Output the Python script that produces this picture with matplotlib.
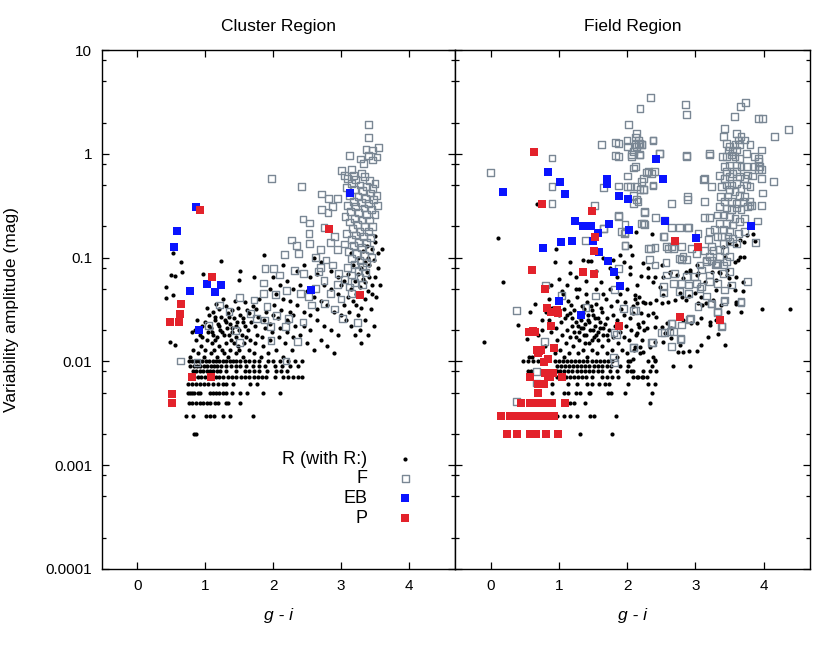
import numpy as np
import matplotlib.pyplot as plt
from matplotlib.ticker import FixedLocator, NullFormatter

plt.rcParams['font.family'] = ['Liberation Sans', 'DejaVu Sans']

# ---------------- Cluster Region ----------------
# R: quantized low-amplitude rows (amp, list of g-i)
cl_r_rows = [
    (0.002, [0.83, 0.87]),
    (0.003, [0.71, 0.82, 1.01, 1.07, 1.13, 1.26, 1.37, 1.70]),
    (0.004, [0.76, 0.81, 0.87, 0.92, 0.97, 1.02, 1.07, 1.14, 1.19, 1.31, 1.34, 1.51]),
    (0.005, [0.74, 0.77, 0.80, 0.84, 0.89, 0.93, 1.07, 1.11, 1.16, 1.21, 1.26, 1.31, 1.40, 1.51, 1.61, 1.85, 2.10]),
    (0.006, [0.74, 0.80, 0.86, 0.92, 0.98, 1.04, 1.12, 1.19, 1.26, 1.31, 1.41, 1.66, 1.76]),
    (0.007, [0.84, 0.89, 0.94, 0.99, 1.04, 1.16, 1.21, 1.26, 1.33, 1.39, 1.46, 1.53, 1.59, 1.65, 1.72,
             1.78, 1.83, 1.89, 2.03, 2.15, 2.22, 2.30, 2.37, 2.42]),
    (0.008, [0.82, 0.87, 0.92, 0.97, 1.02, 1.07, 1.12, 1.17, 1.22, 1.30, 1.45, 1.58, 1.65, 1.72, 1.79,
             1.91, 2.05, 2.12, 2.20]),
    (0.009, [0.78, 0.83, 0.88, 0.93, 0.98, 1.03, 1.08, 1.13, 1.18, 1.23, 1.30, 1.38, 1.45, 1.52, 1.60,
             1.70, 1.80, 1.88, 2.03, 2.13, 2.25, 2.37]),
    (0.010, [0.76, 0.81, 0.86, 0.91, 0.96, 1.01, 1.06, 1.11, 1.16, 1.21, 1.26, 1.31, 1.36, 1.41, 1.46,
             1.51, 1.58, 1.65, 1.72, 1.80, 1.92, 2.00, 2.10, 2.22, 2.32, 2.42]),
]
# R: scattered points above 0.01 (g-i, amp)
cl_r_pts = [
    (0.53, 0.11), (0.65, 0.090), (0.50, 0.068), (0.55, 0.066), (0.66, 0.072), (0.43, 0.052), (0.52, 0.044),
    (0.43, 0.041), (0.97, 0.069), (1.51, 0.075), (1.50, 0.061), (1.86, 0.106), (0.48, 0.0155), (0.55, 0.0144),
    (1.24, 0.092), (1.72, 0.065),
    (0.78, 0.011), (0.82, 0.013), (0.86, 0.016), (0.80, 0.019), (0.90, 0.012), (0.94, 0.014), (0.92, 0.018),
    (0.96, 0.022), (0.88, 0.025), (0.98, 0.011), (1.00, 0.013), (1.02, 0.016), (1.04, 0.019), (1.00, 0.024),
    (1.06, 0.028), (1.03, 0.033), (1.08, 0.012), (1.10, 0.015), (1.12, 0.018), (1.09, 0.021), (1.14, 0.025),
    (1.11, 0.030), (1.16, 0.036), (1.18, 0.011), (1.20, 0.014), (1.17, 0.017), (1.22, 0.020), (1.19, 0.023),
    (1.24, 0.027), (1.21, 0.032), (1.26, 0.040), (1.28, 0.012), (1.30, 0.015), (1.27, 0.018), (1.32, 0.021),
    (1.29, 0.025), (1.34, 0.029), (1.31, 0.034), (1.36, 0.013), (1.38, 0.016), (1.40, 0.019), (1.37, 0.023),
    (1.42, 0.026), (1.39, 0.031), (1.44, 0.038), (1.46, 0.012), (1.48, 0.014), (1.45, 0.017), (1.50, 0.020),
    (1.47, 0.024), (1.52, 0.028), (1.49, 0.033), (1.55, 0.011), (1.57, 0.015), (1.54, 0.018), (1.59, 0.022),
    (1.56, 0.026), (1.61, 0.031), (1.58, 0.037), (1.64, 0.013), (1.66, 0.016), (1.63, 0.020), (1.68, 0.024),
    (1.65, 0.029), (1.70, 0.034), (1.72, 0.012), (1.74, 0.015), (1.76, 0.018), (1.73, 0.022), (1.78, 0.027),
    (1.75, 0.032), (1.80, 0.040), (1.82, 0.011), (1.85, 0.014), (1.83, 0.017), (1.88, 0.021), (1.86, 0.025),
    (1.90, 0.030), (1.93, 0.012), (1.95, 0.016), (1.98, 0.019), (1.96, 0.023), (2.00, 0.028), (2.02, 0.035),
    (2.05, 0.013), (2.08, 0.017), (2.10, 0.021), (2.07, 0.026), (2.12, 0.031), (2.15, 0.011), (2.18, 0.015),
    (2.20, 0.019), (2.22, 0.024), (2.25, 0.030), (2.28, 0.013), (2.30, 0.017), (2.32, 0.022),
    (1.15, 0.016), (1.25, 0.019), (1.35, 0.018), (1.45, 0.022), (1.20, 0.022), (1.30, 0.024), (1.40, 0.021),
    (1.10, 0.019), (1.05, 0.022), (1.25, 0.013), (1.35, 0.027), (1.55, 0.024), (1.15, 0.027), (1.42, 0.015),
    (1.60, 0.017), (0.95, 0.017), (0.85, 0.020), (1.33, 0.011), (1.13, 0.013), (1.50, 0.013),
    (2.05, 0.045), (2.15, 0.040), (2.25, 0.038), (2.35, 0.035), (2.45, 0.030), (2.55, 0.028), (2.65, 0.025),
    (2.75, 0.022), (2.85, 0.020), (2.95, 0.018), (2.10, 0.055), (2.20, 0.060), (2.30, 0.050), (2.40, 0.055),
    (2.50, 0.048), (2.60, 0.042), (2.70, 0.038), (2.80, 0.035), (2.90, 0.030), (3.00, 0.028), (2.35, 0.075),
    (2.45, 0.085), (2.55, 0.065), (2.65, 0.070), (2.75, 0.055), (2.85, 0.050), (2.95, 0.045), (2.40, 0.018),
    (2.50, 0.015), (2.60, 0.013), (2.70, 0.016), (2.80, 0.014), (2.90, 0.012), (2.55, 0.020), (2.65, 0.032),
    (2.30, 0.028), (2.20, 0.025), (2.45, 0.022), (1.95, 0.050), (2.00, 0.065), (2.15, 0.085), (2.60, 0.100),
    (2.70, 0.090), (2.85, 0.075), (2.95, 0.065), (3.00, 0.055),
    (3.05, 0.035), (3.10, 0.042), (3.15, 0.050), (3.20, 0.060), (3.25, 0.070), (3.30, 0.080), (3.35, 0.090),
    (3.40, 0.100), (3.45, 0.120), (3.50, 0.140), (3.12, 0.030), (3.18, 0.038), (3.22, 0.045), (3.28, 0.052),
    (3.32, 0.062), (3.38, 0.072), (3.42, 0.085), (3.48, 0.095), (3.08, 0.025), (3.15, 0.022), (3.25, 0.028),
    (3.30, 0.033), (3.35, 0.040), (3.40, 0.048), (3.45, 0.055), (3.50, 0.065), (3.55, 0.080), (3.20, 0.018),
    (3.28, 0.020), (3.36, 0.025), (3.44, 0.032), (3.52, 0.042), (3.58, 0.055), (3.30, 0.015), (3.40, 0.018),
    (3.48, 0.022), (3.25, 0.100), (3.32, 0.115), (3.38, 0.130), (3.10, 0.070), (3.18, 0.085), (3.05, 0.060),
    (3.35, 0.058), (3.42, 0.065), (3.27, 0.045), (3.22, 0.035), (3.46, 0.045), (3.55, 0.110), (3.60, 0.120),
    (3.15, 0.110), (3.50, 0.160),
]
cl_f = [
    (3.40, 1.9), (3.41, 1.44), (3.55, 1.16), (3.37, 1.10), (3.47, 1.09), (3.12, 0.96), (3.53, 0.93),
    (3.29, 0.89), (3.41, 0.97), (3.47, 0.87), (3.33, 0.80), (1.98, 0.58), (2.42, 0.48), (3.01, 0.69),
    (3.16, 0.70), (3.05, 0.62), (3.19, 0.62), (3.30, 0.65),
    (3.10, 0.58), (3.22, 0.57), (3.35, 0.60), (3.42, 0.55), (3.50, 0.52), (3.15, 0.52), (3.28, 0.50),
    (3.38, 0.48), (3.46, 0.46), (3.08, 0.47), (3.20, 0.45), (3.32, 0.44), (3.44, 0.42), (3.52, 0.40),
    (3.12, 0.40), (3.25, 0.39), (3.36, 0.37), (3.48, 0.36), (3.18, 0.35), (3.30, 0.34), (3.40, 0.33),
    (3.54, 0.32), (3.10, 0.32), (3.22, 0.31), (3.34, 0.30), (3.45, 0.29), (3.14, 0.28), (3.26, 0.27),
    (3.38, 0.26), (3.50, 0.26), (3.06, 0.25), (3.20, 0.24), (3.31, 0.23), (3.42, 0.23), (3.12, 0.22),
    (3.24, 0.21), (3.35, 0.20), (3.47, 0.20), (3.17, 0.19), (3.28, 0.18), (3.40, 0.18), (3.08, 0.17),
    (3.21, 0.165), (3.33, 0.16), (3.44, 0.155), (3.15, 0.15), (3.26, 0.14), (3.38, 0.14), (3.05, 0.135),
    (3.18, 0.13), (3.30, 0.125), (3.42, 0.12), (3.11, 0.115), (3.23, 0.11), (3.35, 0.105), (3.45, 0.10),
    (3.15, 0.098), (3.28, 0.094), (3.38, 0.09), (3.20, 0.086), (3.32, 0.082), (3.10, 0.08), (3.25, 0.075),
    (3.36, 0.072), (3.15, 0.068), (3.28, 0.064), (3.05, 0.062), (3.20, 0.058), (3.32, 0.055), (3.12, 0.052),
    (2.71, 0.41), (2.82, 0.37), (2.95, 0.37), (2.88, 0.31), (2.71, 0.29), (2.81, 0.27), (2.44, 0.235),
    (2.54, 0.215), (2.53, 0.17), (2.75, 0.195), (2.27, 0.148), (2.34, 0.13), (2.54, 0.136), (2.37, 0.11),
    (2.17, 0.108), (2.90, 0.16), (2.85, 0.14), (2.95, 0.12), (2.70, 0.12), (2.62, 0.10), (2.78, 0.095),
    (2.88, 0.085), (2.96, 0.07), (2.70, 0.08),
    (1.88, 0.078), (2.01, 0.078), (1.86, 0.057), (2.10, 0.068), (2.32, 0.075), (2.45, 0.07), (2.67, 0.074),
    (1.72, 0.039), (1.86, 0.045), (2.04, 0.044), (2.20, 0.048), (2.40, 0.045), (2.52, 0.042), (1.51, 0.041),
    (1.21, 0.035), (1.67, 0.029), (1.76, 0.026), (1.87, 0.025), (1.96, 0.0215), (2.05, 0.0278), (2.18, 0.0215),
    (2.23, 0.0258), (2.44, 0.024), (1.97, 0.0158), (1.50, 0.0153), (2.36, 0.0155), (2.19, 0.0101),
    (0.64, 0.0101), (0.88, 0.0098), (3.02, 0.026), (3.24, 0.0236), (2.76, 0.036), (2.57, 0.035),
    (1.91, 0.034), (2.62, 0.05), (2.85, 0.045), (2.95, 0.055), (2.75, 0.06), (3.00, 0.04), (2.90, 0.032),
    (3.15, 0.045), (1.35, 0.03), (1.05, 0.022), (1.45, 0.02),
]
cl_eb = [(0.87, 0.31), (0.59, 0.179), (0.54, 0.127), (0.77, 0.048), (1.03, 0.056), (1.23, 0.055),
         (1.14, 0.047), (3.13, 0.42), (2.56, 0.049), (0.91, 0.020)]
cl_p = [(0.92, 0.29), (1.10, 0.065), (0.64, 0.036), (2.82, 0.187), (3.28, 0.044), (0.63, 0.0286),
        (0.48, 0.0238), (0.61, 0.0238), (0.80, 0.007), (1.09, 0.007), (0.51, 0.0048), (0.51, 0.0040)]

# ---------------- Field Region ----------------
fd_r_rows = [
    (0.002, [1.31, 1.78]),
    (0.003, [0.97, 1.07, 1.17, 1.27, 1.46, 1.52, 1.84]),
    (0.004, [1.09, 1.17, 1.23, 1.39, 2.33]),
    (0.005, [0.90, 1.07, 1.14, 1.25, 1.31, 1.44, 1.46, 1.72, 1.77, 1.97, 2.36]),
    (0.006, [0.90, 1.14, 1.27, 1.41, 1.48, 1.59, 1.68, 1.74, 2.02, 2.31, 2.41]),
    (0.007, [0.97, 1.05, 1.10, 1.16, 1.22, 1.28, 1.34, 1.40, 1.48, 1.63, 1.70, 1.78, 1.87, 2.09, 2.14,
             2.16, 2.22, 2.24, 2.29]),
    (0.008, [0.55, 0.60, 0.97, 1.02, 1.08, 1.14, 1.20, 1.26, 1.32, 1.38, 1.44, 1.50, 1.57, 1.63, 1.75,
             1.85, 2.00, 2.06, 2.09, 2.23, 2.34, 2.43]),
    (0.009, [0.97, 1.03, 1.09, 1.15, 1.21, 1.27, 1.33, 1.39, 1.45, 1.51, 1.57, 1.64, 1.70, 1.77, 1.90,
             2.02, 2.37, 2.68, 2.92]),
    (0.010, [0.47, 0.55, 0.62, 0.70, 0.95, 1.00, 1.06, 1.12, 1.18, 1.24, 1.30, 1.36, 1.42, 1.48, 1.54,
             1.60, 1.66, 1.72, 1.78, 2.02, 2.04, 2.30, 2.41]),
]
fd_r_pts = [
    (-0.10, 0.0155), (0.11, 0.156), (0.19, 0.058), (0.68, 0.33), (0.96, 0.12), (0.95, 0.091), (1.17, 0.09),
    (1.17, 0.071), (1.36, 0.094), (1.43, 0.093), (1.47, 0.092), (0.41, 0.0226), (0.65, 0.0357), (0.58, 0.030),
    (0.54, 0.0163), (0.56, 0.011), (0.61, 0.011), (0.54, 0.0187), (0.60, 0.019), (0.70, 0.018), (0.75, 0.025),
    (0.85, 0.040), (0.88, 0.055), (0.92, 0.030), (1.05, 0.048), (1.00, 0.062), (1.12, 0.055), (1.25, 0.065),
    (1.30, 0.050), (1.40, 0.060), (1.55, 0.075), (1.62, 0.058), (1.75, 0.080), (1.85, 0.065), (1.95, 0.090),
    (2.05, 0.070), (1.65, 0.10), (1.80, 0.095), (1.90, 0.105), (2.13, 0.177), (2.36, 0.17), (2.04, 0.13),
    (0.95, 0.012), (0.98, 0.016), (0.96, 0.021), (1.00, 0.028), (1.02, 0.013), (1.05, 0.018), (1.03, 0.024),
    (1.07, 0.032), (1.08, 0.011), (1.10, 0.015), (1.12, 0.020), (1.09, 0.026), (1.14, 0.038), (1.15, 0.012),
    (1.17, 0.017), (1.19, 0.022), (1.16, 0.029), (1.21, 0.014), (1.23, 0.019), (1.25, 0.024), (1.22, 0.031),
    (1.27, 0.042), (1.28, 0.012), (1.30, 0.016), (1.32, 0.021), (1.29, 0.027), (1.34, 0.034), (1.35, 0.013),
    (1.37, 0.018), (1.39, 0.023), (1.36, 0.029), (1.41, 0.037), (1.42, 0.011), (1.44, 0.015), (1.46, 0.020),
    (1.43, 0.025), (1.48, 0.031), (1.49, 0.013), (1.51, 0.017), (1.53, 0.022), (1.50, 0.028), (1.55, 0.036),
    (1.56, 0.012), (1.58, 0.016), (1.60, 0.021), (1.57, 0.026), (1.62, 0.033), (1.63, 0.014), (1.65, 0.018),
    (1.67, 0.023), (1.64, 0.030), (1.69, 0.040), (1.70, 0.012), (1.72, 0.016), (1.74, 0.020), (1.71, 0.026),
    (1.76, 0.034), (1.78, 0.013), (1.80, 0.017), (1.82, 0.022), (1.79, 0.028), (1.85, 0.011), (1.87, 0.015),
    (1.89, 0.019), (1.86, 0.025), (1.91, 0.032), (1.93, 0.013), (1.95, 0.017), (1.98, 0.022), (1.96, 0.028),
    (2.00, 0.012), (2.03, 0.016), (2.06, 0.020), (2.04, 0.026), (2.08, 0.034), (2.10, 0.013), (2.13, 0.018),
    (2.16, 0.023), (2.19, 0.012), (2.22, 0.016), (2.25, 0.020),
    (1.25, 0.017), (1.30, 0.019), (1.35, 0.021), (1.40, 0.018), (1.45, 0.024), (1.50, 0.020), (1.55, 0.018),
    (1.60, 0.024), (1.33, 0.025), (1.38, 0.015), (1.48, 0.016), (1.58, 0.019), (1.28, 0.022), (1.43, 0.028),
    (1.53, 0.026), (1.20, 0.026), (1.65, 0.021), (1.70, 0.018), (1.37, 0.032), (1.47, 0.034), (1.18, 0.035),
    (1.12, 0.028), (1.06, 0.045), (1.25, 0.050), (1.40, 0.045), (1.55, 0.050), (1.65, 0.045), (1.75, 0.050),
    (1.90, 0.045), (2.00, 0.050), (1.85, 0.038), (2.12, 0.040), (1.97, 0.037), (0.85, 0.025), (0.88, 0.019),
    (0.80, 0.014), (0.90, 0.033), (0.82, 0.030), (0.75, 0.020),
    (2.21, 0.0665), (2.31, 0.0655), (2.38, 0.0586), (2.14, 0.0545), (2.12, 0.0436), (2.17, 0.042),
    (2.24, 0.0376), (2.26, 0.0362), (2.34, 0.0368), (2.43, 0.039), (2.53, 0.0436), (2.51, 0.0362),
    (2.60, 0.0376), (2.70, 0.039), (2.77, 0.0453), (2.80, 0.042), (2.87, 0.039), (2.91, 0.0427),
    (2.99, 0.0453), (3.04, 0.0362), (3.09, 0.042), (3.10, 0.0349), (3.16, 0.0362), (3.26, 0.039),
    (3.36, 0.0705), (3.46, 0.068), (3.50, 0.063), (3.60, 0.0655), (3.70, 0.0586), (3.50, 0.0545),
    (3.58, 0.0488), (3.70, 0.048), (3.60, 0.0376), (3.67, 0.030), (3.48, 0.030), (3.38, 0.0349),
    (3.31, 0.0488), (3.31, 0.0608), (3.14, 0.0586), (3.02, 0.068), (2.92, 0.073), (2.82, 0.063),
    (2.73, 0.068), (2.63, 0.0705), (2.53, 0.0655), (2.48, 0.0525), (2.14, 0.0362), (2.09, 0.029),
    (2.21, 0.029), (2.31, 0.028), (2.38, 0.029), (2.43, 0.027), (2.24, 0.0242), (2.17, 0.0216),
    (2.29, 0.0208), (2.41, 0.0216), (2.51, 0.0216), (2.58, 0.0233), (2.65, 0.0208), (2.55, 0.0186),
    (2.65, 0.0167), (2.53, 0.0155), (2.41, 0.0155), (2.34, 0.0139), (2.19, 0.0139), (2.24, 0.0124),
    (2.12, 0.0139), (2.14, 0.0186), (2.82, 0.025), (2.94, 0.0233), (3.02, 0.0233), (3.09, 0.026),
    (3.21, 0.0242), (3.31, 0.025), (3.19, 0.0173), (3.43, 0.0144), (3.33, 0.0184), (2.77, 0.0144),
    (2.82, 0.0124), (2.75, 0.0124), (2.91, 0.0126), (3.02, 0.0126), (3.08, 0.0144), (2.38, 0.0111),
    (2.41, 0.0103), (2.09, 0.0106), (3.98, 0.032), (4.38, 0.0317), (3.59, 0.036), (3.21, 0.0226),
    (2.07, 0.106), (2.04, 0.082), (2.24, 0.088), (2.31, 0.079), (2.41, 0.0655), (2.51, 0.085),
    (2.63, 0.073), (2.87, 0.073), (2.92, 0.076), (3.02, 0.085), (3.04, 0.0705), (3.24, 0.073),
    (3.35, 0.073), (3.46, 0.076), (3.43, 0.102), (3.41, 0.127), (3.50, 0.137), (3.60, 0.132),
    (3.65, 0.148), (3.72, 0.142), (3.75, 0.165), (3.65, 0.102), (3.58, 0.091), (3.63, 0.095),
    (3.72, 0.102), (3.85, 0.167), (3.88, 0.145),
]
fd_f = [
    (2.34, 3.5), (2.19, 2.74), (2.86, 3.0), (2.87, 2.37), (3.73, 3.1), (3.66, 2.84), (2.02, 1.9),
    (3.57, 2.3), (3.92, 2.2), (3.99, 2.2), (4.37, 1.7), (4.16, 1.48), (1.62, 1.22), (1.83, 1.29),
    (1.88, 1.26), (2.00, 1.34), (2.01, 1.18), (2.12, 1.45), (2.17, 1.26), (2.21, 1.24), (2.14, 1.18),
    (2.38, 1.34), (2.48, 1.0), (1.83, 0.97), (1.87, 0.95), (2.07, 0.98), (2.18, 0.98), (0.90, 0.91),
    (2.87, 0.97), (3.21, 1.0), (0.0, 0.655), (2.10, 0.73), (0.90, 0.48), (0.90, 0.33), (1.52, 0.32),
    (1.65, 0.47), (1.87, 0.49), (2.01, 0.48), (2.05, 0.48), (2.01, 0.61), (2.21, 0.54), (2.28, 0.66),
    (2.40, 0.68), (2.38, 0.49), (2.24, 0.45), (2.16, 0.35), (2.89, 0.36), (3.13, 0.35), (3.24, 0.48),
    (3.13, 0.58), (2.25, 0.27), (2.42, 0.245), (3.14, 0.245), (3.21, 0.245), (1.87, 0.255), (1.66, 0.19),
    (1.97, 0.21), (2.25, 0.21), (1.39, 0.147), (1.97, 0.13), (2.31, 0.122), (2.41, 0.124), (2.60, 0.122),
    (2.68, 0.122), (2.90, 0.195), (3.21, 0.177), (2.54, 0.16), (2.33, 0.096), (2.57, 0.09), (2.80, 0.096),
    (2.87, 0.096), (3.16, 0.092), (3.24, 0.094), (3.33, 0.088), (3.30, 0.085), (1.87, 0.079),
    (1.97, 0.174), (2.10, 0.40), (2.19, 0.45), (1.87, 0.25), (1.92, 0.18), (1.96, 0.17), (1.65, 0.19),
    (1.97, 0.13),
    # main red-giant column
    (3.43, 1.76), (3.41, 1.48), (3.60, 1.57), (3.67, 1.46), (3.72, 1.36), (3.63, 1.36), (3.46, 1.26),
    (3.50, 1.17), (3.58, 1.22), (3.65, 1.22), (3.48, 1.09), (3.55, 1.05), (3.60, 1.09), (3.53, 0.975),
    (3.46, 0.94), (3.58, 0.94), (3.65, 0.90), (3.75, 1.01), (3.80, 1.22), (3.87, 0.94), (3.92, 0.90),
    (3.94, 0.75), (3.87, 0.75), (3.75, 0.75), (3.67, 0.75), (3.60, 0.78), (3.50, 0.78), (3.43, 0.75),
    (3.46, 0.67), (3.50, 0.60), (3.55, 0.65), (3.60, 0.67), (3.65, 0.60), (3.72, 0.58), (3.77, 0.625),
    (3.84, 0.61), (3.97, 0.58), (3.43, 0.58), (3.46, 0.50), (3.53, 0.50), (3.60, 0.52), (3.67, 0.465),
    (3.75, 0.50), (3.80, 0.48), (3.50, 0.45), (3.58, 0.43), (3.65, 0.40), (3.72, 0.386), (3.48, 0.386),
    (3.43, 0.346), (3.53, 0.346), (3.60, 0.333), (3.70, 0.346), (3.80, 0.32), (3.46, 0.30), (3.53, 0.29),
    (3.60, 0.30), (3.67, 0.29), (3.41, 0.257), (3.50, 0.248), (3.58, 0.239), (3.65, 0.222), (3.72, 0.239),
    (3.46, 0.214), (3.55, 0.206), (3.41, 0.185), (3.50, 0.178), (3.63, 0.171), (3.72, 0.178), (3.38, 0.159),
    (3.48, 0.159), (3.55, 0.153), (3.41, 0.137), (3.50, 0.142), (3.60, 0.137), (3.43, 0.118), (3.50, 0.102),
    (3.36, 0.102), (3.31, 0.088), (3.41, 0.085), (3.46, 0.091), (3.21, 0.102), (3.16, 0.095), (3.07, 0.085),
    (3.09, 0.076), (3.26, 0.118), (3.14, 0.118), (3.02, 0.11), (2.94, 0.123), (2.82, 0.102), (2.77, 0.098),
    (2.65, 0.127), (2.58, 0.127), (2.53, 0.159), (2.41, 0.085), (2.34, 0.123), (2.24, 0.214), (2.55, 0.23),
    (3.97, 1.09), (3.92, 0.84), (3.97, 0.70), (4.14, 0.54), (3.98, 0.42), (3.97, 0.32), (3.91, 0.225),
    (3.88, 0.14), (3.80, 0.346), (3.82, 0.32), (3.77, 0.31), (3.92, 0.70), (3.40, 0.94), (3.38, 0.48),
    (3.36, 0.62), (3.37, 0.386), (3.35, 0.31), (3.32, 0.257), (3.28, 0.185), (3.36, 0.214), (3.33, 0.159),
    (3.36, 0.12),
    (2.14, 1.57), (2.17, 1.36), (2.19, 1.26), (2.12, 1.22), (2.21, 1.22), (2.38, 1.36), (2.09, 1.05),
    (2.19, 0.975), (2.48, 1.01), (2.07, 0.94), (2.12, 0.75), (2.31, 0.67), (2.24, 0.58), (2.36, 0.65),
    (2.14, 0.48), (2.24, 0.45), (2.38, 0.50), (2.09, 0.333), (2.14, 0.36), (2.26, 0.28), (2.89, 0.386),
    (3.21, 0.975), (2.87, 0.94), (3.12, 0.57), (2.89, 0.195), (2.65, 0.195), (2.21, 0.214), (2.65, 0.33),
    (3.19, 0.15), (3.24, 0.127), (2.80, 0.127), (3.04, 0.171), (2.77, 0.195),
    # faint squares among the dots
    (2.58, 0.068), (2.70, 0.0705), (2.87, 0.0655), (2.99, 0.0655), (3.21, 0.068), (3.41, 0.0705),
    (3.50, 0.073), (2.53, 0.0525), (2.68, 0.0565), (2.80, 0.0565), (2.90, 0.0545), (3.02, 0.0565),
    (3.09, 0.0525), (3.21, 0.0586), (3.33, 0.0565), (3.43, 0.0488), (3.53, 0.0545), (3.77, 0.0586),
    (2.53, 0.046), (2.77, 0.047), (2.90, 0.0453), (3.07, 0.0506), (3.16, 0.0427), (3.24, 0.0357),
    (3.43, 0.039), (3.67, 0.0376), (3.32, 0.0295), (2.09, 0.0308), (2.65, 0.0233), (2.92, 0.0254),
    (2.80, 0.0224), (2.63, 0.0193), (2.68, 0.0193), (2.78, 0.0163), (2.36, 0.0151), (2.65, 0.0139),
    (2.09, 0.0137), (3.38, 0.0216), (2.37, 0.0153), (2.50, 0.019), (2.55, 0.019), (2.66, 0.023),
    (2.79, 0.0165), (2.93, 0.026), (3.04, 0.034), (3.23, 0.036), (3.33, 0.030), (3.39, 0.0219),
    (3.67, 0.0367), (3.42, 0.038),
    (0.38, 0.031), (0.81, 0.0545), (1.04, 0.043), (0.79, 0.0155), (0.67, 0.008), (0.67, 0.0062),
    (0.38, 0.0041), (1.54, 0.0427), (1.82, 0.049), (1.95, 0.0325), (2.12, 0.031), (1.81, 0.019),
    (1.85, 0.018), (2.09, 0.0137), (1.80, 0.011), (1.82, 0.0098), (1.40, 0.033),
]
fd_eb = [(0.18, 0.43), (0.84, 0.67), (1.02, 0.54), (1.09, 0.41), (1.71, 0.57), (1.71, 0.51), (1.88, 0.39),
         (2.01, 0.37), (1.24, 0.224), (1.36, 0.203), (1.47, 0.20), (1.74, 0.21), (1.57, 0.174), (2.03, 0.184),
         (1.50, 0.145), (0.77, 0.124), (1.03, 0.141), (1.20, 0.144), (1.59, 0.114), (1.72, 0.092),
         (1.81, 0.072), (2.42, 0.885), (2.53, 0.57), (2.55, 0.226), (3.01, 0.155), (3.81, 0.203),
         (1.89, 0.053), (1.00, 0.038), (1.32, 0.028)]
fd_p = [(0.64, 1.03), (0.76, 0.33), (1.49, 0.28), (1.53, 0.159), (1.51, 0.116), (2.70, 0.145), (3.04, 0.127),
        (0.61, 0.076), (1.36, 0.072), (1.52, 0.069), (0.80, 0.050), (0.83, 0.0325), (0.88, 0.030),
        (0.97, 0.031), (0.99, 0.029), (0.89, 0.022), (0.56, 0.019), (0.62, 0.0195), (0.65, 0.019),
        (0.93, 0.0136), (0.68, 0.013), (0.71, 0.0125), (0.74, 0.013), (0.70, 0.012), (0.84, 0.0105),
        (0.79, 0.0098), (0.80, 0.0078), (0.92, 0.0078), (0.58, 0.007), (0.84, 0.007), (0.87, 0.007),
        (1.05, 0.007), (0.69, 0.006), (0.74, 0.006), (0.78, 0.006), (0.69, 0.005),
        (0.45, 0.004), (0.58, 0.004), (0.63, 0.004), (0.68, 0.004), (0.79, 0.004), (0.84, 0.004),
        (0.90, 0.004), (1.09, 0.004),
        (0.15, 0.003), (0.29, 0.003), (0.34, 0.003), (0.40, 0.003), (0.46, 0.003), (0.58, 0.003),
        (0.66, 0.003), (0.73, 0.003), (0.80, 0.003), (0.88, 0.003), (0.93, 0.003),
        (0.24, 0.002), (0.39, 0.002), (0.58, 0.002), (0.66, 0.002), (0.82, 0.002), (0.99, 0.002),
        (1.88, 0.022), (2.78, 0.027), (3.36, 0.025)]

panel_titles = ["Cluster Region", "Field Region"]
legend_labels = ["R (with R:)", "F", "EB", "P"]
x_ticks = [0, 1, 2, 3, 4]
y_major = [1e-4, 1e-3, 1e-2, 1e-1, 1, 10]
y_major_labels = ["0.0001", "0.001", "0.01", "0.1", "1", "10"]
y_minor = [m * d for d in [1e-4, 1e-3, 1e-2, 1e-1, 1] for m in (2, 5, 8)]


def expand(rows, pts):
    xs = [g for amp, gl in rows for g in gl] + [p[0] for p in pts]
    ys = [amp for amp, gl in rows for g in gl] + [p[1] for p in pts]
    return np.array(xs), np.array(ys)


def xy(pts):
    a = np.array(pts)
    return a[:, 0], a[:, 1]


fig = plt.figure(figsize=(8.3, 6.46), dpi=100)
ax1 = fig.add_axes([0.1229, 0.1192, 0.4253, 0.8034])
ax2 = fig.add_axes([0.5482, 0.1192, 0.4277, 0.8034], sharey=ax1)

gray = '#7a8794'
blue = '#0a14ff'
red = '#e3222b'

panels = [
    (ax1, expand(cl_r_rows, cl_r_pts), xy(cl_f), xy(cl_eb), xy(cl_p)),
    (ax2, expand(fd_r_rows, fd_r_pts), xy(fd_f), xy(fd_eb), xy(fd_p)),
]
for i, (ax, r, f, eb, p) in enumerate(panels):
    ax.scatter(r[0], r[1], s=9, c='black', marker='o', linewidths=0, label=legend_labels[0])
    ax.scatter(f[0], f[1], s=24, marker='s', facecolors='none', edgecolors=gray, linewidths=1.0,
               label=legend_labels[1])
    ax.scatter(eb[0], eb[1], s=26, marker='s', c=blue, linewidths=0, label=legend_labels[2])
    ax.scatter(p[0], p[1], s=26, marker='s', c=red, linewidths=0, label=legend_labels[3])

    ax.set_yscale('log')
    ax.set_ylim(1e-4, 10)
    ax.set_xlim(-0.52, 4.68)
    ax.set_xticks(x_ticks)
    ax.yaxis.set_major_locator(FixedLocator(y_major))
    ax.yaxis.set_minor_locator(FixedLocator(y_minor))
    ax.yaxis.set_minor_formatter(NullFormatter())
    ax.tick_params(which='both', direction='in', top=True, right=True, labelsize=11, pad=7)
    ax.tick_params(which='major', length=5, width=0.9)
    ax.tick_params(which='minor', length=3, width=0.9)
    for sp in ax.spines.values():
        sp.set_linewidth(1.0)
    ax.set_title(panel_titles[i], fontsize=12.5, pad=14)
    ax.set_xlabel('g - i', fontsize=12.5, style='italic', labelpad=11)

ax1.set_yticklabels(y_major_labels)
ax2.tick_params(labelleft=False)
ax1.set_ylabel('Variability amplitude (mag)', fontsize=12.5, labelpad=19)

ax1.legend(loc='lower right', bbox_to_anchor=(0.91, 0.064), frameon=False, markerfirst=False,
           fontsize=13, handlelength=1.0, handletextpad=1.6, labelspacing=0.15, borderpad=0,
           scatterpoints=1)

fig.savefig('out.png', dpi=100)
